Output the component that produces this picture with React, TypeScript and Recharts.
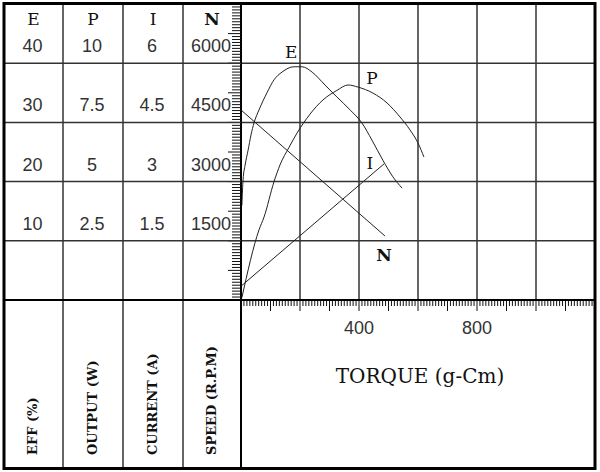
import { LineChart, Line, XAxis, YAxis, ReferenceLine, ReferenceDot, Label } from 'recharts'

document.body.style.margin = '0'

// torque axis (g-Cm)
const TORQUE_MAX = 1200
const TORQUE_LABELS = [400, 800]
const GRID_TORQUE = [200, 400, 600, 800, 1000]
const TORQUE_RULER = Array.from({ length: TORQUE_MAX / 10 + 1 }, (_, i) => i * 10)

// left hand scales
const EFF_TICKS = [10, 20, 30, 40]
const OUT_TICKS = [2.5, 5, 7.5, 10]
const CUR_TICKS = [1.5, 3, 4.5, 6]
const SPEED_TICKS = [1500, 3000, 4500, 6000]
const SPEED_RULER = Array.from({ length: 101 }, (_, i) => i * 75)

// EFF (%)
const EFF_TORQUE = [3, 7, 14, 24, 34, 44, 61, 88, 112, 139, 180, 207, 241, 285, 325, 370, 410, 444, 481, 515, 546]
const EFF_VALUE = [16, 20.3, 22.8, 25.3, 27.9, 29.9, 32.1, 35.0, 37.2, 38.5, 39.4, 39.4, 38.5, 36.3, 34.3, 32.1, 29.9, 27.0, 23.6, 20.8, 18.9]

// OUTPUT (W)
const OUT_TORQUE = [3, 61, 78, 112, 132, 163, 190, 234, 278, 325, 363, 397, 447, 495, 539, 573, 600, 620]
const OUT_VALUE = [0.1, 2.96, 3.5, 5.0, 5.7, 6.45, 7.05, 7.85, 8.45, 8.85, 9.08, 8.99, 8.74, 8.32, 7.73, 7.18, 6.63, 6.04]

// CURRENT (A)
const CUR_TORQUE = [0, 485]
const CUR_VALUE = [0.35, 3.45]

// SPEED (R.P.M)
const SPEED_TORQUE = [0, 488]
const SPEED_VALUE = [4814, 1622]

// curve names, placed in torque / rpm units
const CURVE_NAMES = ['E', 'P', 'I', 'N']
const NAME_TORQUE = [170, 444, 437, 485]
const NAME_SPEED = [6284, 5625, 3471, 1140]

const COL_WIDTHS = [59, 60, 60, 58]
const COL_TITLES = ['E', 'P', 'I', 'N']
const COL_UNITS = ['EFF (%)', 'OUTPUT (W)', 'CURRENT (A)', 'SPEED (R.P.M)']

// recharts stacks left axes by id order, first id next to the plot
const AX_N = 'y1'
const AX_I = 'y2'
const AX_P = 'y3'
const AX_E = 'y4'

const W = 600
const H = 472
const TOP = 4
const BOTTOM = 300
const FRAME_BOTTOM = 468
const LEFT = 4 + COL_WIDTHS.reduce((a, b) => a + b, 0)
const RIGHT = 595

const LINE = '#333'
const CURVE = '#222'
const SERIF = '"DejaVu Serif", serif'
const SANS = '"Liberation Sans", Arial, sans-serif'

const toRows = (xs: number[], ys: number[]) => xs.map((t, i) => ({ t, v: ys[i] }))

function TorqueTick({ x, y, payload }: any) {
  const v = payload.value
  const major = v % 100 === 0
  return (
    <g>
      <line x1={x} x2={x} y1={y} y2={y + (major ? 11 : 6)} stroke="#111" strokeWidth={1} />
      {TORQUE_LABELS.includes(v) && (
        <text x={x} y={y + 28} textAnchor="middle" dominantBaseline="central" fontFamily={SANS} fontSize={18} fill="#333">
          {v}
        </text>
      )}
    </g>
  )
}

function SpeedTick({ x, y, payload }: any) {
  const v = payload.value
  const major = v % 750 === 0
  return (
    <g>
      <line x1={x} x2={x - (major ? 13 : 9)} y1={y} y2={y} stroke="#111" strokeWidth={1} />
      {SPEED_TICKS.includes(v) && (
        <text x={x - 10} y={y - 17} textAnchor="end" dominantBaseline="central" fontFamily={SANS} fontSize={18} fill="#333">
          {v}
        </text>
      )}
    </g>
  )
}

const columnTick = (colWidth: number) =>
  function ColumnTick({ x, y, payload }: any) {
    return (
      <text x={x - colWidth / 2 - 1} y={y - 17} textAnchor="middle" dominantBaseline="central" fontFamily={SANS} fontSize={18} fill="#333">
        {payload.value}
      </text>
    )
  }

function Table() {
  const colRight: number[] = []
  let acc = 4
  COL_WIDTHS.forEach((w) => {
    acc += w
    colRight.push(acc)
  })
  const rowY = SPEED_TICKS.map((v) => BOTTOM - (v / 7500) * (BOTTOM - TOP))
  return (
    <svg width={W} height={H} style={{ position: 'absolute', left: 0, top: 0, pointerEvents: 'none' }}>
      {rowY.map((y) => (
        <line key={y} x1={4} x2={LEFT} y1={y} y2={y} stroke={LINE} strokeWidth={1.5} />
      ))}
      {colRight.map((x, i) => (
        <line key={x} x1={x} x2={x} y1={i === 3 ? BOTTOM : TOP} y2={FRAME_BOTTOM} stroke={i === 3 ? '#000' : LINE} strokeWidth={i === 3 ? 2 : 1.5} />
      ))}
      <line x1={4} x2={RIGHT} y1={BOTTOM} y2={BOTTOM} stroke="#000" strokeWidth={2} />
      <rect x={4} y={3.5} width={591} height={465} fill="none" stroke="#000" strokeWidth={3} />
      {COL_TITLES.map((t, i) => (
        <text
          key={t}
          x={colRight[i] - COL_WIDTHS[i] / 2}
          y={19}
          textAnchor="middle"
          dominantBaseline="central"
          fontFamily={SERIF}
          fontSize={17}
          fontWeight={t === 'N' ? 'bold' : 'normal'}
          fill="#111"
        >
          {t}
        </text>
      ))}
      {COL_UNITS.map((t, i) => (
        <text
          key={t}
          transform={`translate(${colRight[i] - COL_WIDTHS[i] / 2 - 1}, 455) rotate(-90)`}
          textAnchor="start"
          dominantBaseline="central"
          fontFamily={SERIF}
          fontSize={13}
          fontWeight={600}
          fill="#111"
        >
          {t}
        </text>
      ))}
    </svg>
  )
}

export default function App() {
  return (
    <div style={{ position: 'relative', width: W, height: H, background: '#fff' }}>
      <LineChart width={W} height={H} margin={{ top: TOP, right: W - RIGHT, left: 4, bottom: 82 }}>
        <XAxis
          dataKey="t"
          type="number"
          domain={[0, TORQUE_MAX]}
          ticks={TORQUE_RULER}
          interval={0}
          height={90}
          tickSize={0}
          tickMargin={0}
          tickLine={false}
          axisLine={{ stroke: '#000', strokeWidth: 2 }}
          tick={TorqueTick}
        >
          <Label
            position="insideBottom"
            content={(p: any) => (
              <text
                x={p.viewBox.x + p.viewBox.width / 2 + 2}
                y={p.viewBox.y + 76}
                textAnchor="middle"
                dominantBaseline="central"
                fontFamily={SERIF}
                fontSize={20}
                fill="#111"
              >
                TORQUE (g-Cm)
              </text>
            )}
          />
        </XAxis>
        <YAxis yAxisId={AX_N} width={COL_WIDTHS[3]} domain={[0, 7500]} ticks={SPEED_RULER} interval={0} tickSize={0} tickMargin={0} tickLine={false} axisLine={{ stroke: '#000', strokeWidth: 2 }} tick={SpeedTick} />
        <YAxis yAxisId={AX_I} width={COL_WIDTHS[2]} domain={[0, 7.5]} ticks={CUR_TICKS} interval={0} tickSize={0} tickMargin={0} tickLine={false} axisLine={false} tick={columnTick(COL_WIDTHS[2])} />
        <YAxis yAxisId={AX_P} width={COL_WIDTHS[1]} domain={[0, 12.5]} ticks={OUT_TICKS} interval={0} tickSize={0} tickMargin={0} tickLine={false} axisLine={false} tick={columnTick(COL_WIDTHS[1])} />
        <YAxis yAxisId={AX_E} width={COL_WIDTHS[0]} domain={[0, 50]} ticks={EFF_TICKS} interval={0} tickSize={0} tickMargin={0} tickLine={false} axisLine={false} tick={columnTick(COL_WIDTHS[0])} />

        {GRID_TORQUE.map((t) => (
          <ReferenceLine key={`x${t}`} x={t} yAxisId={AX_N} stroke={LINE} strokeWidth={1.5} />
        ))}
        {SPEED_TICKS.map((v) => (
          <ReferenceLine key={`y${v}`} y={v} yAxisId={AX_N} stroke={LINE} strokeWidth={1.5} />
        ))}

        <Line yAxisId={AX_E} data={toRows(EFF_TORQUE, EFF_VALUE)} dataKey="v" type="monotone" stroke={CURVE} strokeWidth={1} dot={false} activeDot={false} isAnimationActive={false} />
        <Line yAxisId={AX_P} data={toRows(OUT_TORQUE, OUT_VALUE)} dataKey="v" type="monotone" stroke={CURVE} strokeWidth={1} dot={false} activeDot={false} isAnimationActive={false} />
        <Line yAxisId={AX_I} data={toRows(CUR_TORQUE, CUR_VALUE)} dataKey="v" type="linear" stroke={CURVE} strokeWidth={1} dot={false} activeDot={false} isAnimationActive={false} />
        <Line yAxisId={AX_N} data={toRows(SPEED_TORQUE, SPEED_VALUE)} dataKey="v" type="linear" stroke={CURVE} strokeWidth={1} dot={false} activeDot={false} isAnimationActive={false} />

        {CURVE_NAMES.map((name, i) => (
          <ReferenceDot
            key={name}
            x={NAME_TORQUE[i]}
            y={NAME_SPEED[i]}
            yAxisId={AX_N}
            r={0}
            shape={(p: any) => (
              <text x={p.cx} y={p.cy} textAnchor="middle" dominantBaseline="central" fontFamily={SERIF} fontSize={17} fontWeight={name === 'N' ? 'bold' : 'normal'} fill="#111">
                {name}
              </text>
            )}
          />
        ))}
      </LineChart>
      <Table />
    </div>
  )
}
